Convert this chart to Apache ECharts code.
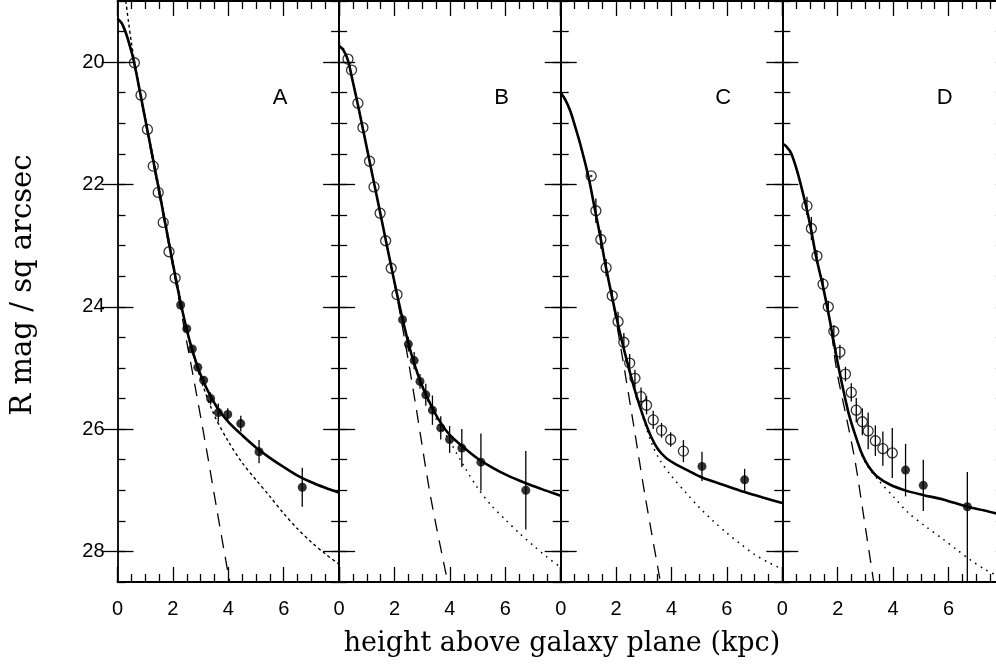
<!DOCTYPE html>
<html><head><meta charset="utf-8">
<script src="https://cdn.jsdelivr.net/npm/echarts@6/dist/echarts.min.js"></script>
<style>html,body{margin:0;padding:0;background:#fff}#c{width:996px;height:671px}</style>
</head><body><div id="c"></div>
<script>
// ---------- tick labels ----------
const X_TICKS = [0, 2, 4, 6, 8];
const Y_MAJOR = [20, 22, 24, 26, 28];
const PANEL_NAMES = ['A', 'B', 'C', 'D'];

// ---------- Panel A ----------
const A_open_x = [0.61,0.85,1.08,1.29,1.47,1.65,1.86,2.08];
const A_open_y = [20.01,20.54,21.10,21.70,22.13,22.62,23.10,23.53];
const A_open_err = [0,0,0,0,0,0,0,0];
const A_fill_x = [2.28,2.50,2.70,2.90,3.11,3.36,3.64,3.98,4.45,5.11,6.67];
const A_fill_y = [23.97,24.36,24.69,24.99,25.20,25.50,25.73,25.76,25.91,26.37,26.95];
const A_fill_errUp = [0.04,0.04,0.05,0.05,0.06,0.1,0.15,0.1,0.13,0.19,0.32];
const A_fill_errDn = [0.04,0.04,0.05,0.05,0.06,0.1,0.15,0.1,0.13,0.19,0.32];
const A_solid_x = [0,0.15,0.3,0.45,0.6,1.0,1.5,2.0,2.3,2.6,2.9,3.2,3.6,4.0,4.5,5.0,5.5,6.0,6.5,7.0,7.5,8.0];
const A_solid_y = [19.29,19.36,19.52,19.74,20.0,20.93,22.1,23.3,23.98,24.55,24.99,25.32,25.65,25.88,26.1,26.3,26.47,26.62,26.76,26.87,26.96,27.04];
const A_dash_x = [0,0.15,0.3,0.45,0.6,1.0,1.5,2.0,2.4,2.8,3.2,3.6,4.0,4.05];
const A_dash_y = [19.29,19.37,19.53,19.76,20.03,20.97,22.15,23.35,24.33,25.3,26.3,27.35,28.38,28.5];
const A_dot_x = [0.3,0.4,0.5,0.62,0.8,1.1,1.5,2.0,2.5,3.0,3.5,4.0,4.5,5.0,5.5,6.0,6.5,7.0,7.5,8.0];
const A_dot_y = [19.0,19.35,19.68,20.0,20.45,21.12,22.05,23.25,24.38,25.18,25.78,26.2,26.55,26.83,27.1,27.38,27.63,27.85,28.04,28.21];

// ---------- Panel B ----------
const B_open_x = [0.32,0.45,0.68,0.86,1.10,1.26,1.48,1.68,1.88,2.09];
const B_open_y = [19.95,20.13,20.67,21.07,21.62,22.04,22.47,22.92,23.37,23.80];
const B_open_err = [0,0,0,0,0,0,0,0,0,0];
const B_fill_x = [2.29,2.50,2.71,2.92,3.13,3.37,3.67,3.99,4.43,5.12,6.74];
const B_fill_y = [24.21,24.61,24.88,25.22,25.44,25.69,25.98,26.17,26.31,26.54,27.0];
const B_fill_errUp = [0.08,0.12,0.14,0.12,0.18,0.24,0.19,0.22,0.31,0.47,0.64];
const B_fill_errDn = [0.08,0.12,0.14,0.12,0.18,0.24,0.19,0.22,0.31,0.47,0.64];
const B_solid_x = [0,0.15,0.32,0.5,0.68,1.0,1.5,2.0,2.3,2.6,2.9,3.2,3.6,4.0,4.5,5.0,5.5,6.0,6.5,7.0,7.5,8.0];
const B_solid_y = [19.73,19.8,19.97,20.33,20.7,21.4,22.5,23.6,24.22,24.76,25.18,25.5,25.85,26.1,26.3,26.48,26.62,26.74,26.84,26.93,27.01,27.09];
const B_dash_x = [0,0.15,0.32,0.5,0.68,1.0,1.5,2.0,2.4,2.77,3.3,3.92];
const B_dash_y = [19.73,19.8,19.97,20.33,20.7,21.4,22.5,23.62,24.62,25.62,27.1,28.5];
const B_dot_x = [0,0.15,0.32,0.5,0.68,1.0,1.5,2.0,2.5,3.0,3.5,4.0,4.5,5.0,5.5,6.0,6.5,7.0,7.5,8.0];
const B_dot_y = [19.68,19.77,19.96,20.33,20.7,21.4,22.5,23.6,24.58,25.3,25.83,26.2,26.6,26.96,27.25,27.48,27.7,27.9,28.09,28.26];

// ---------- Panel C ----------
const C_open_x = [1.10,1.27,1.45,1.64,1.86,2.07,2.28,2.49,2.68,2.90,3.10,3.34,3.64,3.97,4.43];
const C_open_y = [21.86,22.43,22.90,23.36,23.82,24.24,24.58,24.92,25.17,25.47,25.61,25.85,26.02,26.17,26.36];
const C_open_err = [0,0.2,0.15,0.14,0.1,0.16,0.15,0.15,0.14,0.15,0.15,0.15,0.12,0.12,0.18];
const C_ringdot_x = [1.10];
const C_ringdot_y = [21.86];
const C_fill_x = [5.10,6.64];
const C_fill_y = [26.61,26.83];
const C_fill_errUp = [0.24,0.18];
const C_fill_errDn = [0.24,0.18];
const C_solid_x = [0,0.15,0.34,0.5,0.7,1.0,1.24,1.45,1.61,1.85,2.1,2.4,2.7,3.0,3.26,3.5,3.8,4.1,4.6,5.1,5.8,6.64,7.3,8.0];
const C_solid_y = [20.5,20.6,20.79,21.02,21.33,21.87,22.42,22.9,23.3,23.83,24.35,24.9,25.4,25.82,26.12,26.32,26.47,26.56,26.68,26.79,26.9,27.03,27.12,27.21];
const C_dash_x = [0,0.15,0.34,0.5,0.7,1.0,1.24,1.45,1.61,1.9,2.2,2.62,3.05,3.6];
const C_dash_y = [20.5,20.6,20.79,21.02,21.33,21.87,22.42,22.9,23.3,23.97,24.75,25.9,27.1,28.5];
const C_dot_x = [0,0.34,0.7,1.0,1.24,1.45,1.61,1.85,2.1,2.4,2.7,3.0,3.3,3.6,4.0,4.5,5.0,5.5,6.0,6.5,7.0,7.5,8.0];
const C_dot_y = [20.5,20.79,21.33,21.87,22.42,22.9,23.3,23.83,24.35,24.9,25.38,25.85,26.25,26.52,26.77,27.03,27.28,27.5,27.7,27.88,28.05,28.18,28.29];

// ---------- Panel D ----------
const D_open_x = [0.89,1.05,1.25,1.47,1.66,1.86,2.08,2.28,2.49,2.67,2.89,3.10,3.36,3.63,3.97];
const D_open_y = [22.35,22.72,23.17,23.63,24.0,24.40,24.74,25.10,25.40,25.69,25.88,26.03,26.19,26.32,26.39];
const D_open_err = [0.15,0.19,0.1,0.1,0.1,0.1,0.12,0.12,0.15,0.2,0.22,0.3,0.25,0.28,0.41];
const D_fill_x = [4.45,5.09,6.68];
const D_fill_y = [26.67,26.92,27.27];
const D_fill_errUp = [0.43,0.42,0.57];
const D_fill_errDn = [0.43,0.42,1.3];
const D_solid_x = [0,0.15,0.32,0.56,0.86,1.04,1.22,1.47,1.71,1.95,2.15,2.4,2.65,2.87,3.1,3.41,3.9,4.49,5.1,5.8,6.68,7.3,8.0];
const D_solid_y = [21.33,21.38,21.49,21.82,22.36,22.74,23.18,23.67,24.21,24.8,25.25,25.75,26.12,26.4,26.6,26.77,26.91,27.01,27.08,27.15,27.27,27.33,27.41];
const D_dash_x = [0,0.15,0.32,0.56,0.86,1.04,1.22,1.47,1.71,1.96,2.3,2.62,2.92,3.3];
const D_dash_y = [21.33,21.38,21.49,21.82,22.36,22.74,23.18,23.67,24.21,25.03,25.78,26.5,27.37,28.5];
const D_dot_x = [0,0.32,0.56,0.86,1.22,1.47,1.71,1.95,2.15,2.4,2.7,3.0,3.5,4.0,4.55,5.2,5.8,6.3,6.76,7.3,8.0];
const D_dot_y = [21.33,21.49,21.82,22.36,23.18,23.67,24.21,24.8,25.25,25.75,26.2,26.55,26.85,27.1,27.37,27.6,27.8,27.97,28.13,28.29,28.45];

// ---------- assemble ----------
const panels = [
  {open:[A_open_x,A_open_y,A_open_err], fill:[A_fill_x,A_fill_y,A_fill_errUp,A_fill_errDn],
   solid:[A_solid_x,A_solid_y], dash:[A_dash_x,A_dash_y], dot:[A_dot_x,A_dot_y], dotStyle:[3,3], dotWidth:1.4},
  {open:[B_open_x,B_open_y,B_open_err], fill:[B_fill_x,B_fill_y,B_fill_errUp,B_fill_errDn],
   solid:[B_solid_x,B_solid_y], dash:[B_dash_x,B_dash_y], dot:[B_dot_x,B_dot_y], dotStyle:[1.6,5], dotWidth:1.5},
  {open:[C_open_x,C_open_y,C_open_err], fill:[C_fill_x,C_fill_y,C_fill_errUp,C_fill_errDn],
   solid:[C_solid_x,C_solid_y], dash:[C_dash_x,C_dash_y], dot:[C_dot_x,C_dot_y], dotStyle:[1.6,5], dotWidth:1.5,
   ringdot:[C_ringdot_x,C_ringdot_y]},
  {open:[D_open_x,D_open_y,D_open_err], fill:[D_fill_x,D_fill_y,D_fill_errUp,D_fill_errDn],
   solid:[D_solid_x,D_solid_y], dash:[D_dash_x,D_dash_y], dot:[D_dot_x,D_dot_y], dotStyle:[1.6,5], dotWidth:1.5}
];

const zip = (xs, ys) => xs.map((x, i) => [x, ys[i]]);

const GL = 117.5, GW = 221.6, GT = 1, GH = 581;
const BLACK = '#000';
const grids = [], xAxes = [], yAxes = [], series = [], graphics = [];

const errRender = function (params, api) {
  const x = api.value(0), lo = api.value(1), hi = api.value(2);
  if (lo === hi) return null;
  const p1 = api.coord([x, lo]), p2 = api.coord([x, hi]);
  return {type: 'line', shape: {x1: p1[0], y1: p1[1], x2: p2[0], y2: p2[1]},
          style: {stroke: BLACK, lineWidth: 1.3}};
};

panels.forEach((p, i) => {
  grids.push({left: GL + i * GW, top: GT, width: GW, height: GH, containLabel: false, outerBoundsMode: 'none'});
  const xBase = {
    gridIndex: i, type: 'value', min: 0, max: 8, interval: 2,
    axisLine: {onZero: false, lineStyle: {color: BLACK, width: 1.8}},
    axisTick: {inside: true, length: 15, lineStyle: {color: BLACK, width: 1.3}},
    minorTick: {show: true, splitNumber: 4, length: 8, lineStyle: {color: BLACK, width: 1.3}},
    splitLine: {show: false}
  };
  xAxes.push(Object.assign({}, xBase, {position: 'bottom',
    axisLabel: {show: true, showMaxLabel: false, color: BLACK, fontSize: 20,
      fontFamily: 'Liberation Sans, Arial, sans-serif', margin: 17,
      formatter: v => (X_TICKS.indexOf(v) >= 0 ? String(v) : '')}}));
  xAxes.push(Object.assign({}, xBase, {position: 'top', axisLabel: {show: false}}));

  ['left', 'right'].forEach(side => {
    yAxes.push({gridIndex: i, type: 'value', inverse: true, min: 19, max: 28.5, interval: 0.5, position: side,
      axisLine: {show: true, onZero: false, lineStyle: {color: BLACK, width: 1.8}},
      axisTick: {inside: true, length: 8, lineStyle: {color: BLACK, width: 1.3}},
      axisLabel: {show: false}, splitLine: {show: false}});
    yAxes.push({gridIndex: i, type: 'value', inverse: true, min: 19, max: 28.5, position: side,
      axisLine: {show: false},
      axisTick: {inside: true, length: 16, customValues: Y_MAJOR, lineStyle: {color: BLACK, width: 1.3}},
      axisLabel: (i === 0 && side === 'left') ? {show: true, customValues: Y_MAJOR, color: BLACK, fontSize: 20,
        fontFamily: 'Liberation Sans, Arial, sans-serif', margin: 13, padding: [10, 0, 0, 0]} : {show: false},
      splitLine: {show: false}});
  });
  const xi = 2 * i, yi = 4 * i;
  const common = {xAxisIndex: xi, yAxisIndex: yi, animation: false, silent: true};

  series.push(Object.assign({type: 'line', data: zip(p.dash[0], p.dash[1]), symbol: 'none', smooth: 0.3,
    lineStyle: {color: BLACK, width: 1.3, type: [13, 9]}, z: 2}, common));
  series.push(Object.assign({type: 'line', data: zip(p.dot[0], p.dot[1]), symbol: 'none', smooth: 0.3,
    lineStyle: {color: BLACK, width: p.dotWidth, type: p.dotStyle}, z: 2}, common));
  series.push(Object.assign({type: 'line', data: zip(p.solid[0], p.solid[1]), symbol: 'none', smooth: 0.3,
    lineStyle: {color: BLACK, width: 2.6}, z: 3}, common));

  const eOpen = p.open[0].map((x, k) => [x, p.open[1][k] - p.open[2][k], p.open[1][k] + p.open[2][k]]);
  const eFill = p.fill[0].map((x, k) => [x, p.fill[1][k] - p.fill[2][k], p.fill[1][k] + p.fill[3][k]]);
  series.push(Object.assign({type: 'custom', renderItem: errRender, data: eOpen.concat(eFill), clip: true, z: 4,
    encode: {x: 0, y: [1, 2]}}, common));

  series.push(Object.assign({type: 'scatter', data: zip(p.open[0], p.open[1]), symbol: 'circle', symbolSize: 10,
    itemStyle: {color: 'rgba(0,0,0,0)', borderColor: BLACK, borderWidth: 1.3}, z: 5}, common));
  series.push(Object.assign({type: 'scatter', data: zip(p.fill[0], p.fill[1]), symbol: 'circle', symbolSize: 9,
    itemStyle: {color: BLACK}, z: 5}, common));
  if (p.ringdot) {
    series.push(Object.assign({type: 'scatter', data: zip(p.ringdot[0], p.ringdot[1]), symbol: 'circle', symbolSize: 2.5,
      itemStyle: {color: BLACK}, z: 6}, common));
  }
  graphics.push({type: 'text', x: GL + i * GW + 162.5, y: 98,
    style: {text: PANEL_NAMES[i], textAlign: 'center', textVerticalAlign: 'middle',
      font: '22px "Liberation Sans", Arial, sans-serif', fill: BLACK}});
});

graphics.push({type: 'text', x: 562, y: 644,
  style: {text: 'height above galaxy plane (kpc)', textAlign: 'center', textVerticalAlign: 'middle',
    font: '27px "DejaVu Serif", serif', fill: BLACK}});
graphics.push({type: 'text', x: 23, y: 285, rotation: Math.PI / 2,
  style: {text: 'R mag / sq arcsec', textAlign: 'center', textVerticalAlign: 'middle',
    font: '29px "DejaVu Serif", serif', fill: BLACK}});

const chart = echarts.init(document.getElementById('c'), null, {renderer: 'canvas'});
chart.setOption({
  backgroundColor: '#fff', animation: false,
  grid: grids, xAxis: xAxes, yAxis: yAxes, series: series, graphic: graphics
});
</script></body></html>
